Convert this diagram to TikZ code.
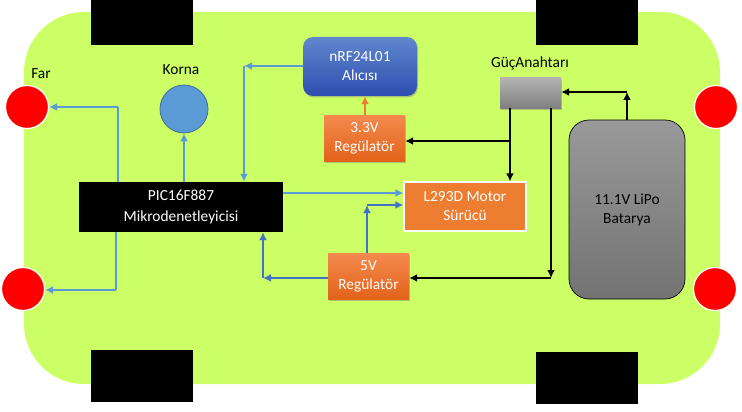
\documentclass[tikz,border=0pt]{standalone}
\usepackage{fontspec}
\setmainfont{Carlito}
\usetikzlibrary{arrows.meta,shadows}
\definecolor{bodygreen}{HTML}{CCFF66}
\definecolor{hornblue}{HTML}{5B9BD5}
\definecolor{wireblue}{HTML}{4472C4}
\definecolor{motororange}{HTML}{ED7D31}
\definecolor{regtop}{HTML}{F48A4E}
\definecolor{regmid}{HTML}{F47B20}
\definecolor{regbottom}{HTML}{E2631A}

\begin{document}
\begin{tikzpicture}[x=1pt,y=-1pt,
  every node/.style={font=\fontsize{15.4}{18}\selectfont, align=center, inner sep=0pt},
  wheel/.style={fill=black, minimum width=102pt, minimum height=48pt},
  lamp/.style={circle, fill=red, draw=white, line width=1.2pt, minimum size=43pt},
  reg/.style={top color=regtop, middle color=regmid, bottom color=regbottom, text=white, minimum width=81pt, minimum height=46pt, drop shadow={shadow xshift=1pt, shadow yshift=-1.5pt, opacity=0.45}},
  lightwire/.style={draw=hornblue, line width=1.6pt, -{Latex[length=8pt,width=8pt]}},
  darkwire/.style={draw=wireblue, line width=1.6pt, -{Latex[length=8pt,width=8pt]}},
  powerwire/.style={draw=black, line width=1.6pt, -{Latex[length=8pt,width=8pt]}},
  lightline/.style={draw=hornblue, line width=1.6pt}
]
\useasboundingbox (0,0) rectangle (742,412);
% body
\node[fill=bodygreen, rounded corners=60pt, minimum width=696pt, minimum height=372pt] (body) at (372,198) {};
% wheels
\node[wheel, minimum height=45pt] (wheelA) at (142,22.5) {};
\node[wheel, minimum height=45pt] (wheelB) at (587,22.5) {};
\node[wheel, minimum height=52pt] (wheelC) at (142,376) {};
\node[wheel, minimum height=52pt] (wheelD) at (587,378) {};
% lamps
\node[lamp] (lampA) at (27,107) {};
\node[lamp] (lampB) at (23,289) {};
\node[lamp] (lampC) at (716,107) {};
\node[lamp] (lampD) at (715,289) {};
% blocks
\node[circle, fill=hornblue, draw=hornblue!70!black, line width=0.8pt, minimum size=48pt] (horn) at (184,109) {};
\node[fill=black, text=white, minimum width=204pt, minimum height=50pt] (mcu) at (181,207) {PIC16F887\\[3pt]Mikrodenetleyicisi};
\node[rounded corners=10pt, top color=wireblue!85!white, bottom color=wireblue!80!blue!85!black, text=white, minimum width=114pt, minimum height=59pt, drop shadow={shadow xshift=1pt, shadow yshift=-1.5pt, opacity=0.45}] (radio) at (360,66.5) {nRF24L01\\[1pt]Alıcısı};
\node[reg] (regA) at (364.5,138) {3.3V\\[1pt]Regülatör};
\node[reg] (regB) at (368.5,276) {5V\\[1pt]Regülatör};
\node[fill=motororange, draw=white, line width=1.3pt, text=white, minimum width=122pt, minimum height=49pt] (motor) at (465,206.5) {L293D Motor\\[1pt]Sürücü};
\node[top color=black!30, bottom color=black!50, minimum width=61pt, minimum height=30pt, drop shadow={shadow xshift=1pt, shadow yshift=-1.5pt, opacity=0.45}] (switch) at (530.5,93) {};
\node[draw=black, line width=0.7pt, rounded corners=20pt, top color=black!40, bottom color=black!55, minimum width=116pt, minimum height=179pt] (battery) at (627,209.5) {11.1V LiPo\\[1pt]Batarya};
% labels
\node (farlabel) at (41,74) {Far};
\node (hornlabel) at (181,70) {Korna};
\node (switchlabel) at (530,63) {GüçAnahtarı};
% bend points
\coordinate (farbendA) at (118,107);
\coordinate (farbendB) at (116,290);
\coordinate (hornfoot) at (184,182);
\coordinate (radiobend) at (244,66);
\coordinate (motorin) at (367,205);
\coordinate (mcuin) at (263,278);
\coordinate (batbend) at (627,92);
\coordinate (regAbend) at (510,141);
\coordinate (regBbend) at (551,278);
% control wires
\draw[lightline] (mcu.north -| farbendA) -- (farbendA);
\draw[lightwire] (farbendA) -- (lampA.east |- farbendA);
\draw[lightline] (mcu.south -| farbendB) -- (farbendB);
\draw[lightwire] (farbendB) -- (lampB.east |- farbendB);
\draw[lightwire] (hornfoot) -- (horn.south);
\draw[lightwire] (radio.west |- radiobend) -- (radiobend);
\draw[lightwire] (radiobend) -- (mcu.north -| radiobend);
\draw[lightwire] (mcu.east |- 0,193) -- (motor.west |- 0,193);
% 5V wires
\draw[darkwire] (regB.north -| motorin) -- (motorin);
\draw[darkwire] (motorin) -- (motor.west |- motorin);
\draw[darkwire] (regB.west |- mcuin) -- (mcuin);
\draw[darkwire] (mcuin) -- (mcu.south -| mcuin);
\draw[draw=motororange, line width=1.6pt, -{Latex[length=8pt,width=8pt]}] (regA.north -| 365,0) -- (radio.south -| 365,0);
% power wires
\draw[powerwire] (battery.north -| batbend) -- (batbend);
\draw[powerwire] (batbend) -- (switch.east |- batbend);
\draw[powerwire] (switch.south -| regAbend) -- (motor.north -| regAbend);
\draw[powerwire] (regAbend) -- (regA.east |- regAbend);
\draw[powerwire] (switch.south -| regBbend) -- (regBbend);
\draw[powerwire] (regBbend) -- (regB.east |- regBbend);
\end{tikzpicture}
\end{document}
